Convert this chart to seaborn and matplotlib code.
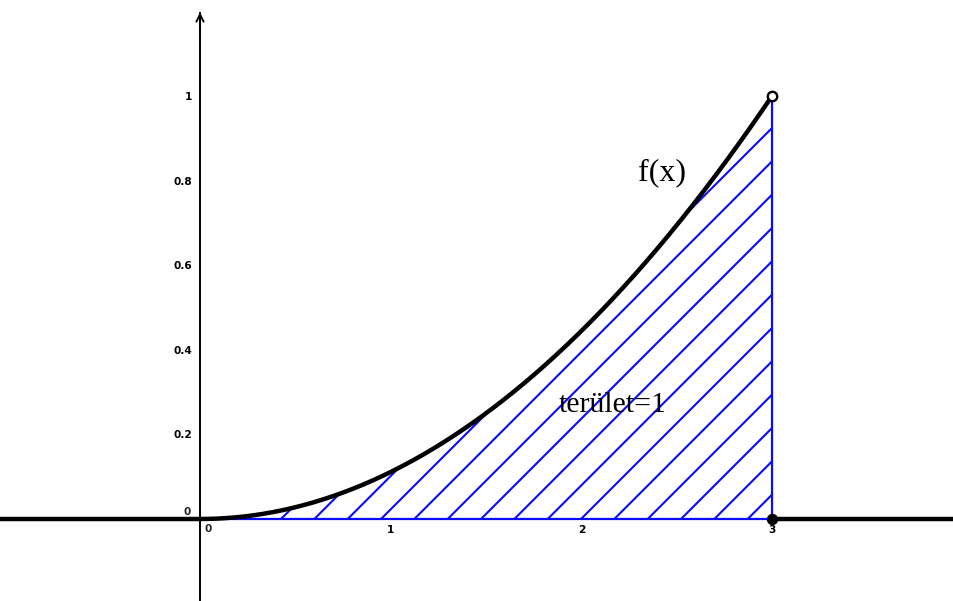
import numpy as np
import pandas as pd
import matplotlib
matplotlib.use("Agg")
import matplotlib.pyplot as plt
import seaborn as sns

# ---- data ----
interval = [0, 3]            # integration interval [a, b]
coef = 1 / 9                 # f(x) = coef * x^2 on [a, b], 0 elsewhere
x_view = [-1.049, 3.9545]
y_view = [-0.1939, 1.227]
x_ticks = [1, 2, 3]
y_ticks = [0.2, 0.4, 0.6, 0.8, 1.0]
y_tick_labels = ["0.2", "0.4", "0.6", "0.8", "1"]
curve_label = "f(x)"
area_label = "terület=1"

a, b = interval
xs_in = np.linspace(a, b, 400)
df_in = pd.DataFrame({"x": xs_in, "y": coef * xs_in ** 2})
df_left = pd.DataFrame({"x": [x_view[0], a], "y": [0, 0]})
df_right = pd.DataFrame({"x": [b, x_view[1]], "y": [0, 0]})

sns.set_theme(style="white")
plt.rcParams["font.family"] = ["DejaVu Sans"]
plt.rcParams["hatch.linewidth"] = 1.5

DPI = 100
fig = plt.figure(figsize=(954 / DPI, 601 / DPI), dpi=DPI)
ax = fig.add_axes([0, 0, 1, 1])
ax.set_xlim(*x_view)
ax.set_ylim(*y_view)

# axes through origin
for s in ["top", "right"]:
    ax.spines[s].set_visible(False)
ax.spines["left"].set_position(("data", 0))
ax.spines["bottom"].set_position(("data", 0))
y_tip = 1.196
ax.spines["left"].set_bounds(y_view[0], y_tip)
for s in ["left", "bottom"]:
    ax.spines[s].set_color("black")
    ax.spines[s].set_linewidth(1.4)
ax.annotate("", xy=(0, y_tip + 0.002), xytext=(0, y_tip - 0.05),
            arrowprops=dict(arrowstyle="->", color="black", lw=1.4,
                            mutation_scale=13, shrinkA=0, shrinkB=0))

ax.set_xticks(x_ticks)
ax.set_xticklabels([str(t) for t in x_ticks])
ax.set_yticks(y_ticks)
ax.set_yticklabels(y_tick_labels)
ax.tick_params(axis="both", direction="inout", length=3.2, width=1.2,
               color="black", labelsize=7.6, labelcolor="black")
ax.tick_params(axis="x", pad=2.6)
ax.tick_params(axis="y", pad=4.2)
for lab in ax.get_xticklabels() + ax.get_yticklabels():
    lab.set_fontweight("bold")
ax.text(0.04, -0.012, "0", fontsize=7.6, fontweight="bold", ha="center", va="top")
ax.text(-0.07, 0.005, "0", fontsize=7.6, fontweight="bold", ha="center", va="bottom")

# hatched area
ax.fill_between(df_in["x"], 0, df_in["y"], facecolor="none", edgecolor="#0a0aff",
                hatch="/", linewidth=1.6, zorder=3)

# function
for d in (df_left, df_in, df_right):
    sns.lineplot(data=d, x="x", y="y", ax=ax, color="black", linewidth=3.2,
                 zorder=5, sort=False, estimator=None)
ax.set_xlabel("")
ax.set_ylabel("")

# end points
ax.plot([b], [coef * b ** 2], marker="o", markersize=6.8, markerfacecolor="white",
        markeredgecolor="black", markeredgewidth=1.7, zorder=6)
ax.plot([b], [0], marker="o", markersize=7.2, color="black", zorder=6)

ax.text(2.423, 0.818, curve_label, fontsize=23, family="Liberation Serif",
        ha="center", va="center", color="black")
ax.text(2.166, 0.27, area_label, fontsize=21.5, family="Liberation Serif",
        ha="center", va="center", color="black")

fig.savefig("out.png", dpi=DPI)
